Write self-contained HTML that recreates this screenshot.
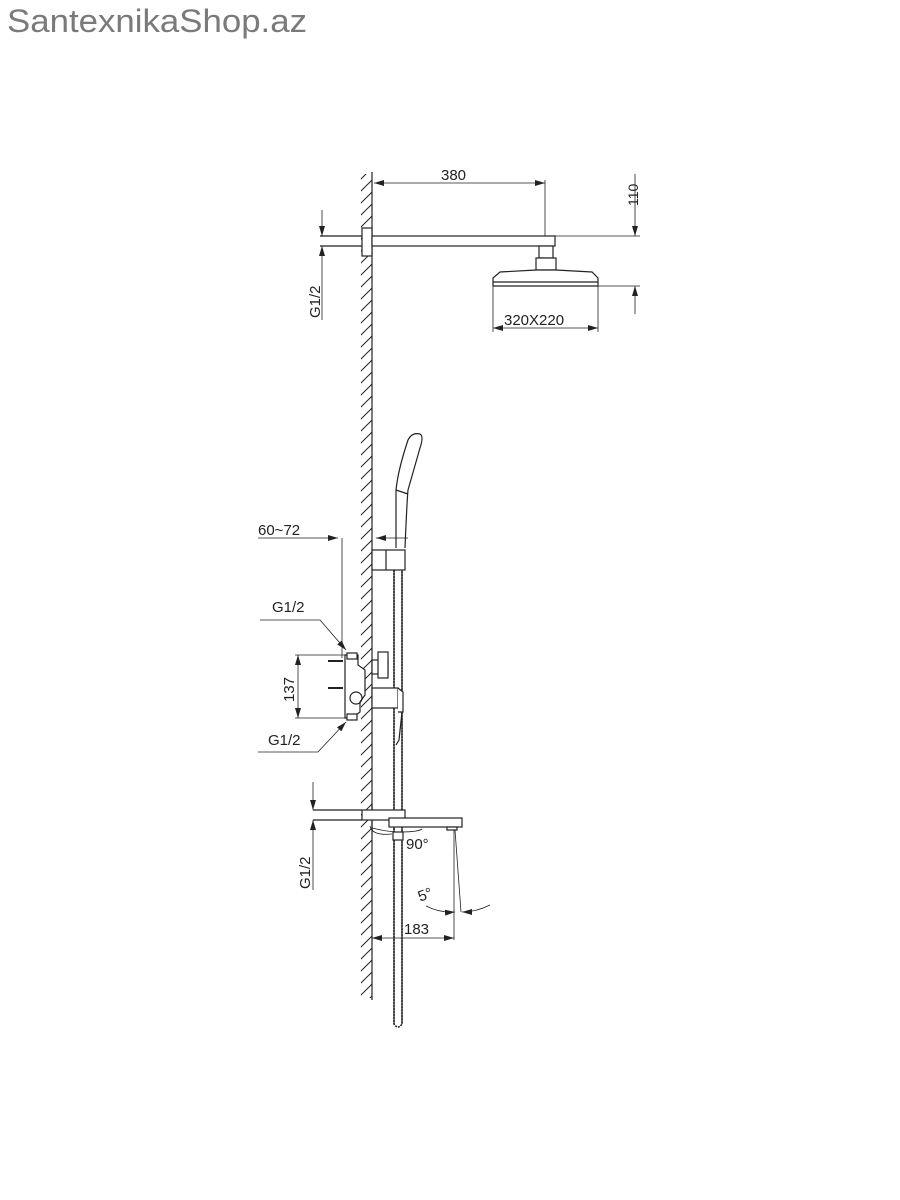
<!DOCTYPE html>
<html><head><meta charset="utf-8"><style>
html,body{margin:0;padding:0;background:#fff;}
svg{display:block;}
text{font-family:"Liberation Sans",sans-serif;fill:#222;}
</style></head><body>
<svg width="900" height="1200" viewBox="0 0 900 1200" xmlns="http://www.w3.org/2000/svg">
<defs>
<pattern id="h" width="12" height="12" patternUnits="userSpaceOnUse">
<line x1="0" y1="12" x2="12" y2="0" stroke="#222" stroke-width="1"/>
</pattern>
<marker id="a" viewBox="0 0 10 6" refX="10" refY="3" markerWidth="10" markerHeight="6" orient="auto-start-reverse" markerUnits="userSpaceOnUse">
<path d="M0,0 L10,3 L0,6 z" fill="#222"/>
</marker>
</defs>
<text x="7" y="32" font-size="32" textLength="300" lengthAdjust="spacingAndGlyphs" style="fill:#7a7a7a">SantexnikaShop.az</text>

<g stroke="#222" stroke-width="1.2" fill="none">
<rect x="361" y="174" width="11" height="824" fill="url(#h)" stroke="none"/>
<line x1="372" y1="172" x2="372" y2="1000"/>

<line x1="320" y1="236" x2="362" y2="236"/>
<line x1="320" y1="246" x2="362" y2="246"/>
<rect x="362" y="228" width="10" height="28" fill="#fff"/>
<rect x="372" y="236" width="183" height="10" fill="#fff"/>
<line x1="555" y1="236" x2="640" y2="236" stroke-width="0.8"/>
<line x1="545" y1="180" x2="545" y2="236" stroke-width="0.8"/>
<line x1="374" y1="183" x2="545" y2="183" stroke-width="0.8" marker-start="url(#a)" marker-end="url(#a)"/>
<rect x="539" y="246" width="14" height="12" fill="#fff"/>
<rect x="536" y="258" width="20" height="12" fill="#fff"/>
<path d="M493,286 L493,278 L500,272 L536,270 L556,270 L592,272 L598,278 L598,286 Z" fill="#fff"/>
<line x1="493" y1="282" x2="598" y2="282"/>
<line x1="598" y1="286" x2="640" y2="286" stroke-width="0.8"/>
<line x1="493" y1="286" x2="493" y2="332" stroke-width="0.8"/>
<line x1="598" y1="286" x2="598" y2="332" stroke-width="0.8"/>
<line x1="493" y1="328" x2="598" y2="328" stroke-width="0.8" marker-start="url(#a)" marker-end="url(#a)"/>
<line x1="635" y1="174" x2="635" y2="236" stroke-width="0.8" marker-end="url(#a)"/>
<line x1="635" y1="314" x2="635" y2="286" stroke-width="0.8" marker-end="url(#a)"/>
<line x1="322" y1="210" x2="322" y2="236" stroke-width="0.8" marker-end="url(#a)"/>
<line x1="322" y1="320" x2="322" y2="246" stroke-width="0.8" marker-end="url(#a)"/>

<path d="M396,548 L396,490 Q398,470 408,440 Q412,432 420,434 Q424,436 420,448 L408,490 Q407,500 405,548" fill="#fff"/>
<line x1="396" y1="490" x2="408" y2="494"/>
<rect x="372" y="550" width="33" height="20" fill="#fff"/>
<line x1="386" y1="550" x2="386" y2="570"/>
<path d="M394,570 L394,1024 Q398,1030 402,1024 L402,570" stroke-width="1.6" stroke-dasharray="2 1"/>
<path d="M394,570 L394,1024 M402,570 L402,1024"/>
<line x1="258" y1="538" x2="338" y2="538" stroke-width="0.8" marker-end="url(#a)"/>
<line x1="408" y1="538" x2="376" y2="538" stroke-width="0.8" marker-end="url(#a)"/>
<line x1="342" y1="538" x2="342" y2="658" stroke-width="0.8"/>
<path d="M345,655 L358,655 L358,665 L365,670 L365,695 L360,702 L360,712 L352,718 L345,718 Z" fill="#fff"/>
<rect x="347" y="653" width="10" height="6" fill="#fff"/>
<rect x="347" y="714" width="10" height="6" fill="#fff"/>
<circle cx="356" cy="698" r="6"/>
<line x1="328" y1="661" x2="343" y2="661" stroke-width="2"/>
<line x1="328" y1="688" x2="343" y2="688" stroke-width="2"/>
<rect x="372" y="660" width="16" height="14" fill="#fff"/>
<rect x="378" y="652" width="10" height="26" fill="#fff"/>
<rect x="372" y="688" width="26" height="20" fill="#fff"/>
<path d="M398,688 L403,692 L403,712 L398,712" fill="#fff"/>
<path d="M402,712 L399,740 L396,745"/>
<line x1="295" y1="655" x2="345" y2="655" stroke-width="0.8"/>
<line x1="295" y1="718" x2="345" y2="718" stroke-width="0.8"/>
<line x1="298" y1="655" x2="298" y2="718" stroke-width="0.8" marker-start="url(#a)" marker-end="url(#a)"/>
<polyline points="260,620 320,620 346,650" stroke-width="0.8" marker-end="url(#a)"/>
<polyline points="258,752 318,752 346,722" stroke-width="0.8" marker-end="url(#a)"/>

<line x1="313" y1="810" x2="362" y2="810"/>
<line x1="313" y1="820" x2="362" y2="820"/>
<line x1="372" y1="803" x2="372" y2="830"/>
<rect x="362" y="810" width="43" height="10" fill="#fff"/>
<rect x="389" y="818" width="73" height="9" fill="#fff"/>
<rect x="447" y="827" width="10" height="3" fill="#fff"/>
<path d="M372,828 Q388,832 400,832 M400,832 Q418,832 422,829" stroke-width="0.8"/>
<path d="M370,826 Q372,836 392,834" stroke-width="0.8"/>
<rect x="393" y="832" width="10" height="8" fill="#fff"/>
<line x1="313" y1="782" x2="313" y2="810" stroke-width="0.8" marker-end="url(#a)"/>
<line x1="313" y1="890" x2="313" y2="820" stroke-width="0.8" marker-end="url(#a)"/>
<line x1="454" y1="830" x2="454" y2="940" stroke-width="0.8"/>
<line x1="455" y1="830" x2="461" y2="912" stroke-width="0.8"/>
<path d="M426,906 Q440,913 455,912" stroke-width="0.8" marker-end="url(#a)"/>
<path d="M490,905 Q476,912 462,912" stroke-width="0.8" marker-end="url(#a)"/>
<line x1="372" y1="938" x2="454" y2="938" stroke-width="0.8" marker-start="url(#a)" marker-end="url(#a)"/>
</g>

<g font-size="15">
<text x="441" y="180">380</text>
<text x="504" y="325">320X220</text>
<text x="258" y="535">60~72</text>
<text x="272" y="612">G1/2</text>
<text x="268" y="745">G1/2</text>
<text x="406" y="849">90°</text>
<text x="418" y="900" transform="rotate(-20 424 895)">5°</text>
<text x="404" y="934">183</text>
<text transform="translate(638,206) rotate(-90)" font-size="14">110</text>
<text transform="translate(320,318) rotate(-90)">G1/2</text>
<text transform="translate(294,702) rotate(-90)">137</text>
<text transform="translate(310,889) rotate(-90)">G1/2</text>
</g>
</svg>
</body></html>
